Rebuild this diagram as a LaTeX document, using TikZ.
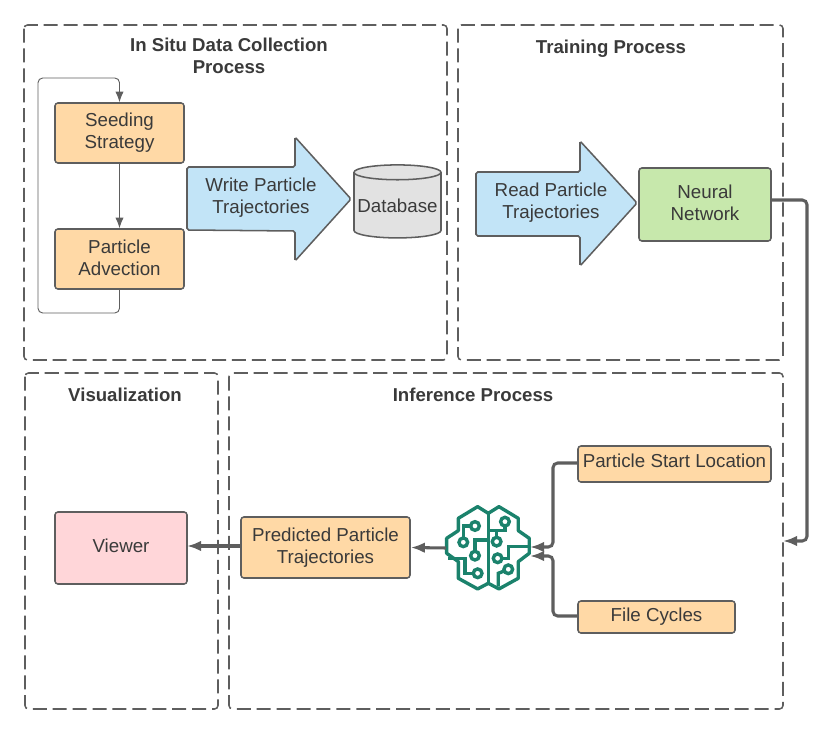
\documentclass[tikz,border=0pt]{standalone}
\usepackage{fontspec}
\setmainfont{Liberation Sans}
\usetikzlibrary{arrows.meta,shapes.geometric}
\definecolor{flowgray}{RGB}{94,94,94}
\definecolor{textgray}{RGB}{58,58,58}
\definecolor{boxorange}{RGB}{255,217,166}
\definecolor{arrowblue}{RGB}{194,228,247}
\definecolor{netgreen}{RGB}{199,232,172}
\definecolor{viewpink}{RGB}{255,214,217}
\definecolor{dbgray}{RGB}{226,226,226}
\definecolor{braingreen}{RGB}{27,130,108}
\tikzset{
  stage/.style={draw=flowgray, line width=1.3pt, dash pattern=on 12pt off 5pt, rounded corners=3pt},
  stagetitle/.style={font=\fontsize{15.9}{19}\selectfont\bfseries, text=textgray, align=center},
  box/.style={draw=flowgray, line width=1.3pt, rounded corners=2.5pt, align=center, text=textgray, inner sep=0pt, font=\fontsize{16}{19}\selectfont},
  bigarrow/.style={draw=flowgray, line width=1.3pt, fill=arrowblue, rounded corners=1.5pt},
  thinflow/.style={draw=flowgray, line width=0.8pt, rounded corners=4pt, -{Latex[length=9pt,width=7pt]}},
  thickflow/.style={draw=flowgray, line width=2.6pt, rounded corners=4pt, -{Latex[length=12pt,width=9pt]}},
  brainline/.style={draw=braingreen, line width=2.9pt}
}
\begin{document}
\begin{tikzpicture}[x=0.03cm,y=-0.03cm]
\useasboundingbox (0,0) rectangle (831,732);

% Dashed stages
\draw[stage] (24,25) rectangle (447,360);
\draw[stage] (458,25) rectangle (783,360);
\draw[stage] (25,373) rectangle (218,709);
\draw[stage] (229,373) rectangle (783,709);

% Stage titles
\node[stagetitle] (titlesitu) at (229,56) {In Situ Data Collection\\Process};
\node[stagetitle] (titletrain) at (611,48.5) {Training Process};
\node[stagetitle] (titlevis) at (125,395) {Visualization};
\node[stagetitle] (titleinf) at (473,395) {Inference Process};

% Data collection
\node[box, fill=boxorange, minimum width=3.87cm, minimum height=1.8cm] (seeding) at (119.5,133) {Seeding\\Strategy};
\node[box, fill=boxorange, minimum width=3.87cm, minimum height=1.8cm, text depth=1.7pt] (advection) at (119.5,259) {Particle\\Advection};
\coordinate (loopa) at (119.5,313);
\coordinate (loopb) at (38,313);
\coordinate (loopc) at (38,78);
\coordinate (loopd) at (119.5,78);
\draw[thinflow] (seeding) -- (advection);
\draw[thinflow] (advection) -- (loopa) -- (loopb) -- (loopc) -- (loopd) -- (seeding);

\draw[bigarrow] (187,167) -- (295,167) -- (295,137) -- (351,199) -- (295,261) -- (295,231) -- (187,230) -- cycle;
\node[box, draw=none, rounded corners=0pt] (writetext) at (261,198) {Write Particle\\Trajectories};
\node[box, fill=dbgray, rounded corners=0pt, shape=cylinder, shape border rotate=90, aspect=0.185, minimum width=2.61cm, minimum height=2.19cm] (database) at (397.5,205.5) {Database};

% Training
\draw[bigarrow] (476,172) -- (580,172) -- (580,141) -- (637,203) -- (580,266) -- (580,236) -- (476,236) -- cycle;
\node[box, draw=none, rounded corners=0pt] (readtext) at (551,203) {Read Particle\\Trajectories};
\node[box, fill=netgreen, minimum width=3.96cm, minimum height=2.19cm, text depth=3pt] (network) at (705,204.5) {Neural\\Network};

% Inference
\node[box, fill=boxorange, minimum width=5.79cm, minimum height=1.08cm, text depth=5pt] (start) at (674.5,464) {Particle Start Location};
\node[box, fill=boxorange, minimum width=4.71cm, minimum height=0.96cm] (cycles) at (656.5,617) {File Cycles};
\node[box, fill=boxorange, minimum width=5.07cm, minimum height=1.83cm] (predicted) at (325.5,547.5) {Predicted Particle\\Trajectories};
\node[box, fill=viewpink, minimum width=3.96cm, minimum height=2.16cm, text depth=3.4pt] (viewer) at (121,548) {Viewer};
\node[minimum width=2.52cm, minimum height=2.52cm, inner sep=0pt] (brain) at (488,548) {};

% Brain icon
\begin{scope}[shift={(430,490)},x=0.01cm,y=-0.01cm]
\draw[brainline, line join=round] (175,70) -- (143,50) -- (85,85) -- (85,122) -- (50,145) -- (50,190) -- (85,215) -- (85,265) -- (143,297) -- (175,280) -- (207,297) -- (265,265) -- (265,215) -- (298,190) -- (298,145) -- (265,122) -- (265,85) -- (207,50) -- cycle;
\draw[brainline] (175,70) -- (175,280);
\draw[brainline] (135,108) circle (13);
\draw[brainline] (122,108) -- (100,108) -- (100,144);
\draw[brainline] (100,157) circle (13);
\draw[brainline] (135,197) circle (13);
\draw[brainline] (135,184) -- (135,150) -- (175,150);
\draw[brainline] (55,205) -- (105,205) -- (105,250) -- (130,250);
\draw[brainline] (143,250) circle (13);
\draw[brainline] (225,95) circle (13);
\draw[brainline] (225,108) -- (225,122) -- (175,122);
\draw[brainline] (200,155) circle (13);
\draw[brainline] (200,142) -- (200,122);
\draw[brainline] (203,205) circle (13);
\draw[brainline] (216,205) -- (235,205) -- (235,170) -- (298,170);
\draw[brainline] (235,238) circle (13);
\draw[brainline] (223,243) -- (205,250) -- (205,290);
\end{scope}

% Thick connectors
\coordinate (stagein) at (783,541);
\coordinate (netout) at (771,200);
\coordinate (netturn) at (807,200);
\coordinate (stageturn) at (807,541);
\draw[thickflow] (netout) -- (netturn) -- (stageturn) -- (stagein);
\coordinate (brainupper) at (530,547);
\coordinate (brainlower) at (530,556);
\coordinate (startout) at (578,463);
\coordinate (startturna) at (553,463);
\coordinate (startturnb) at (553,547);
\coordinate (cyclesout) at (578,616);
\coordinate (cyclesturna) at (553,616);
\coordinate (cyclesturnb) at (553,556);
\draw[thickflow] (startout) -- (startturna) -- (startturnb) -- (brainupper);
\draw[thickflow] (cyclesout) -- (cyclesturna) -- (cyclesturnb) -- (brainlower);
\draw[thickflow] (brain.west) -- (predicted.east);
\coordinate (predout) at (241,546);
\coordinate (viewin) at (187,546);
\draw[thickflow] (predout) -- (viewin);
\end{tikzpicture}
\end{document}
